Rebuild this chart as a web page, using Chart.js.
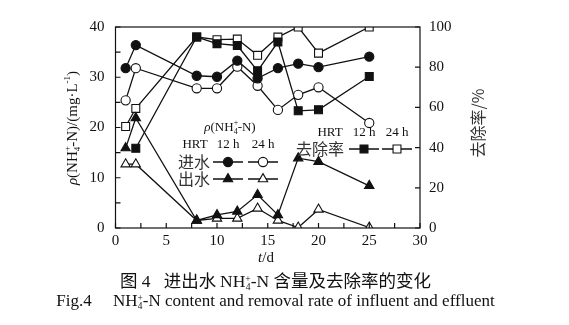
<!DOCTYPE html>
<html>
<head>
<meta charset="utf-8">
<script src="https://cdn.jsdelivr.net/npm/chart.js@4"></script>
<style>
  body { margin: 0; background: #fff; }
  #wrap { position: relative; width: 569px; height: 325px; }
  #chart { position: absolute; left: 0; top: 0; }
  .cap { position: absolute; left: 0; width: 551px; text-align: center; color: #111; white-space: pre; line-height: 1.2; }
  .cn { font-family: "Noto Sans CJK SC", serif; }
  .en { font-family: "Liberation Serif", "Times New Roman", serif; }
  .ss { display: inline-block; font-size: 0.55em; line-height: 0.85; vertical-align: -3px; font-family: "Liberation Serif", serif; }
  .ss span { display: block; }
</style>
</head>
<body>
<div id="wrap">
  <canvas id="chart" width="569" height="325"></canvas>
  <div class="cap" style="top:269px;font-size:17.5px"><span class="cn">图</span><span class="en"> 4   </span><span class="cn">进出水 </span><span class="en">NH<span class="ss"><span>+</span><span>4</span></span>-N </span><span class="cn">含量及去除率的变化</span></div>
  <div class="cap en" style="top:291px;font-size:17px">Fig.4     NH<span class="ss"><span>+</span><span>4</span></span>-N content and removal rate of influent and effluent</div>
</div>
<script>
// sampling days and measured values
const days = [1, 2, 8, 10, 12, 14, 16, 18, 20, 25];
const influent12 = [31.8, 36.4, 30.3, 30.1, 33.3, 29.8, 31.8, 32.7, 32.0, 34.1];
const influent24 = [25.4, 31.8, 27.8, 27.8, 32.1, 28.3, 23.5, 26.5, 28.0, 20.9];
const effluent12 = [15.9, 21.9, 1.5, 2.6, 3.3, 6.6, 2.6, 13.9, 13.2, 8.4];
const effluent24 = [12.7, 12.7, 1.5, 1.9, 1.9, 3.9, 1.5, 0.1, 3.7, 0.1];
const removal12 = [null, 39.7, 95.0, 91.7, 90.8, 78.2, 92.5, 58.3, 58.8, 75.4];
const removal24 = [50.5, 59.5, 95.0, 93.7, 94.0, 85.9, 95.0, 100, 87.0, 100];

const SERIF = '"Liberation Serif", "Times New Roman", serif';
const CJK = '"Noto Sans CJK SC", sans-serif';
const INK = '#111';

const pts = (vals) => days.map((d, i) => ({ x: d, y: vals[i] })).filter(p => p.y !== null);

const markers = {
  circle: { pointStyle: 'circle', radius: 4.6 },
  triangle: { pointStyle: 'triangle', radius: 5.4 },
  rect: { pointStyle: 'rect', radius: 5.6 }
};

function series(vals, shape, filled, axis) {
  return {
    data: pts(vals),
    yAxisID: axis,
    borderColor: INK,
    borderWidth: 1.3,
    pointStyle: markers[shape].pointStyle,
    pointRadius: markers[shape].radius,
    pointBackgroundColor: filled ? INK : '#fff',
    pointBorderColor: INK,
    pointBorderWidth: 1.1,
    tension: 0
  };
}

// draws a run of text pieces; each piece may be shifted up/down (sub/superscripts)
function richWidth(ctx, parts) {
  let w = 0;
  parts.forEach(p => {
    ctx.font = p.font;
    if (!p.stack) w += ctx.measureText(p.t).width;
  });
  return w;
}
function drawRich(ctx, parts, x, y) {
  let cx = x;
  parts.forEach(p => {
    ctx.font = p.font;
    ctx.fillText(p.t, cx, y + (p.dy || 0));
    if (!p.stack) cx += ctx.measureText(p.t).width;
  });
}
function nh4(size, tail) {
  const f = size + 'px ' + SERIF;
  const s = Math.round(size * 0.62) + 'px ' + SERIF;
  const parts = [
    { t: 'ρ', font: 'italic ' + f },
    { t: '(NH', font: f },
    { t: '+', font: s, dy: -size * 0.38, stack: true },
    { t: '4', font: s, dy: size * 0.28 },
    { t: '-N)', font: f }
  ];
  return parts.concat(tail || []);
}

function legendMark(ctx, shape, filled, x, y) {
  ctx.save();
  ctx.fillStyle = filled ? INK : '#fff';
  ctx.strokeStyle = INK;
  ctx.lineWidth = 1.1;
  Chart.helpers.drawPoint(ctx, { pointStyle: markers[shape].pointStyle, radius: markers[shape].radius, rotation: 0, borderWidth: 1.1 }, x, y);
  ctx.restore();
}
function legendRow(ctx, y, x1, x2, shape) {
  ctx.save();
  ctx.strokeStyle = INK;
  ctx.lineWidth = 1.3;
  ctx.beginPath();
  ctx.moveTo(x1, y); ctx.lineTo(x1 + 30, y);
  ctx.moveTo(x2, y); ctx.lineTo(x2 + 30, y);
  ctx.stroke();
  ctx.restore();
  legendMark(ctx, shape, true, x1 + 15, y);
  legendMark(ctx, shape, false, x2 + 15, y);
}

const frame = {
  id: 'frame',
  afterDraw(chart) {
    const { ctx, chartArea: a, scales } = chart;
    ctx.save();
    ctx.strokeStyle = INK;
    ctx.lineWidth = 1.2;
    ctx.strokeRect(a.left, a.top, a.right - a.left, a.bottom - a.top);

    // inward tick marks
    ctx.beginPath();
    scales.x.ticks.forEach(t => {
      const px = scales.x.getPixelForValue(t.value);
      ctx.moveTo(px, a.bottom); ctx.lineTo(px, a.bottom - 5);
    });
    scales.y.ticks.forEach(t => {
      const py = scales.y.getPixelForValue(t.value);
      ctx.moveTo(a.left, py); ctx.lineTo(a.left + 5, py);
    });
    scales.y1.ticks.forEach(t => {
      const py = scales.y1.getPixelForValue(t.value);
      ctx.moveTo(a.right, py); ctx.lineTo(a.right - 5, py);
    });
    ctx.stroke();

    ctx.fillStyle = INK;
    ctx.textBaseline = 'middle';

    // left axis title
    const lt = nh4(15, [{ t: '/(mg·L', font: '15px ' + SERIF }, { t: '-1', font: '9px ' + SERIF, dy: -5 }, { t: ')', font: '15px ' + SERIF }]);
    ctx.save();
    ctx.translate(73, 128);
    ctx.rotate(-Math.PI / 2);
    drawRich(ctx, lt, -richWidth(ctx, lt) / 2, 0);
    ctx.restore();

    // right axis title
    ctx.save();
    ctx.translate(478, 123);
    ctx.rotate(-Math.PI / 2);
    ctx.textAlign = 'center';
    ctx.font = '16px ' + CJK;
    ctx.fillStyle = '#333';
    ctx.fillText('去除率/%', 0, 0);
    ctx.restore();

    // x axis title
    const xt = [{ t: 't', font: 'italic 15px ' + SERIF }, { t: '/d', font: '15px ' + SERIF }];
    drawRich(ctx, xt, 266 - richWidth(ctx, xt) / 2, 258);

    // concentration legend
    const lg = nh4(13);
    drawRich(ctx, lg, 230 - richWidth(ctx, lg) / 2, 128);
    ctx.font = '13px ' + SERIF;
    ctx.textAlign = 'center';
    ctx.fillText('HRT', 195, 145);
    ctx.fillText('12 h', 228, 145);
    ctx.fillText('24 h', 263, 145);
    ctx.fillText('HRT', 330, 133);
    ctx.fillText('12 h', 364, 133);
    ctx.fillText('24 h', 397, 133);
    ctx.font = '16px ' + CJK;
    ctx.fillStyle = '#333';
    ctx.textAlign = 'right';
    ctx.fillText('进水', 210, 162);
    ctx.fillText('出水', 210, 179);
    ctx.fillText('去除率', 344, 149);
    ctx.restore();

    legendRow(ctx, 162, 213, 248, 'circle');
    legendRow(ctx, 179, 213, 248, 'triangle');
    legendRow(ctx, 149, 349, 382, 'rect');
  }
};

new Chart(document.getElementById('chart'), {
  type: 'line',
  data: {
    datasets: [
      series(influent12, 'circle', true, 'y'),
      series(influent24, 'circle', false, 'y'),
      series(effluent12, 'triangle', true, 'y'),
      series(effluent24, 'triangle', false, 'y'),
      series(removal12, 'rect', true, 'y1'),
      series(removal24, 'rect', false, 'y1')
    ]
  },
  options: {
    responsive: false,
    animation: false,
    layout: { padding: { top: 27, left: 0, right: 0, bottom: 0 } },
    plugins: { legend: { display: false }, tooltip: { enabled: false } },
    scales: {
      x: {
        type: 'linear', min: 0, max: 30,
        grid: { display: false, drawTicks: false },
        border: { display: false },
        afterFit: s => { s.height = 97; },
        ticks: {
          stepSize: 2.5, padding: 4, color: INK, maxRotation: 0, autoSkip: false,
          font: { family: SERIF, size: 15 },
          callback: v => (v % 5 === 0 ? v : '')
        }
      },
      y: {
        position: 'left', min: 0, max: 40,
        grid: { display: false, drawTicks: false },
        border: { display: false },
        afterFit: s => { s.width = 115.5; },
        ticks: {
          stepSize: 5, padding: 11, color: INK,
          font: { family: SERIF, size: 15 },
          callback: v => (v % 10 === 0 ? v : '')
        }
      },
      y1: {
        position: 'right', min: 0, max: 100,
        grid: { display: false, drawTicks: false },
        border: { display: false },
        afterFit: s => { s.width = 149; },
        ticks: {
          stepSize: 10, padding: 9, color: INK,
          font: { family: SERIF, size: 15 },
          callback: v => (v % 20 === 0 ? v : '')
        }
      }
    }
  },
  plugins: [frame]
});
</script>
</body>
</html>
